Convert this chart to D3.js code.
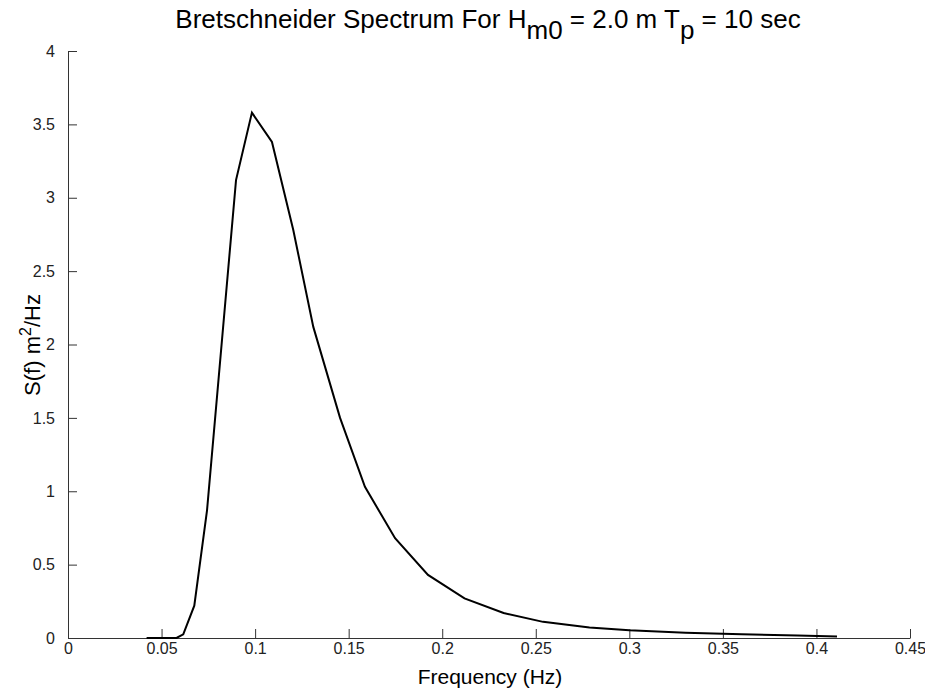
<!DOCTYPE html>
<html>
<head>
<meta charset="utf-8">
<script src="https://cdn.jsdelivr.net/npm/d3@7"></script>
<style>
  html, body { margin: 0; padding: 0; background: #fff; }
  svg { display: block; }
  text { font-family: "Liberation Sans", Arial, Helvetica, sans-serif; }
</style>
</head>
<body>
<svg id="chart" width="925" height="691"></svg>
<script>
// ---- data ----
const frequency = [0.042, 0.058, 0.0616, 0.0675, 0.0743, 0.0898, 0.0983, 0.109, 0.1204, 0.1311,
                   0.1454, 0.1587, 0.1748, 0.1924, 0.2119, 0.2328, 0.2539, 0.2787, 0.300, 0.330,
                   0.360, 0.390, 0.411];
const spectrum  = [0.0, 0.0, 0.025, 0.22, 0.87, 3.12, 3.58, 3.38, 2.78, 2.12,
                   1.50, 1.03, 0.68, 0.43, 0.27, 0.17, 0.11, 0.072, 0.052, 0.036,
                   0.025, 0.017, 0.011];
const xTicks = [0, 0.05, 0.1, 0.15, 0.2, 0.25, 0.3, 0.35, 0.4, 0.45];
const xTickLabels = ["0", "0.05", "0.1", "0.15", "0.2", "0.25", "0.3", "0.35", "0.4", "0.45"];
const yTicks = [0, 0.5, 1, 1.5, 2, 2.5, 3, 3.5, 4];
const yTickLabels = ["0", "0.5", "1", "1.5", "2", "2.5", "3", "3.5", "4"];

const points = frequency.map((f, i) => ({ f, s: spectrum[i] }));

const svg = d3.select("#chart");
const margin = { left: 68, right: 15, top: 51, bottom: 53 };
const W = 925, H = 691;

const x = d3.scaleLinear().domain([0, 0.45]).range([margin.left, W - margin.right]);
const y = d3.scaleLinear().domain([0, 4]).range([H - margin.bottom, margin.top]);

const tickFont = "'Liberation Sans Narrow', 'Liberation Sans', Arial, sans-serif";

// X axis
const xAxis = d3.axisBottom(x)
  .tickValues(xTicks)
  .tickFormat((d, i) => xTickLabels[i])
  .tickSizeInner(-9).tickSizeOuter(0).tickPadding(13);
const gx = svg.append("g").attr("transform", `translate(0,${y(0)})`).call(xAxis);

// Y axis
const yAxis = d3.axisLeft(y)
  .tickValues(yTicks)
  .tickFormat((d, i) => yTickLabels[i])
  .tickSizeInner(-9).tickSizeOuter(0).tickPadding(13);
const gy = svg.append("g").attr("transform", `translate(${x(0)},0)`).call(yAxis);

[gx, gy].forEach(g => {
  g.select(".domain").attr("stroke", "#333").attr("stroke-width", 1);
  g.selectAll(".tick line").attr("stroke", "#333").attr("stroke-width", 1);
  g.selectAll(".tick text").attr("fill", "#222").style("font-size", "16px")
    .style("font-family", tickFont);
});
gy.selectAll(".tick text").attr("dy", "0.32em");
gx.selectAll(".tick text").attr("dy", "0.2em");

// line
const line = d3.line().x(d => x(d.f)).y(d => y(d.s));
svg.append("path")
  .datum(points)
  .attr("fill", "none")
  .attr("stroke", "#000")
  .attr("stroke-width", 2)
  .attr("stroke-linejoin", "miter")
  .attr("d", line);

// Title with subscripts
const title = svg.append("text")
  .attr("x", 488)
  .attr("y", 28)
  .attr("text-anchor", "middle")
  .style("font-size", "26px")
  .attr("fill", "#000");
title.append("tspan").text("Bretschneider Spectrum For H");
title.append("tspan").attr("dy", 11).text("m0");
title.append("tspan").attr("dy", -11).text(" = 2.0 m T");
title.append("tspan").attr("dy", 11).text("p");
title.append("tspan").attr("dy", -11).text(" = 10 sec");

// X axis label
svg.append("text")
  .attr("x", 490)
  .attr("y", 684)
  .attr("text-anchor", "middle")
  .style("font-size", "21px")
  .attr("fill", "#000")
  .text("Frequency (Hz)");

// Y axis label with superscript
const ylab = svg.append("text")
  .attr("transform", `translate(40,345) rotate(-90)`)
  .attr("text-anchor", "middle")
  .style("font-size", "22px")
  .attr("fill", "#000");
ylab.append("tspan").text("S(f) m");
ylab.append("tspan").attr("dy", -9).style("font-size", "16px").text("2");
ylab.append("tspan").attr("dy", 9).text("/Hz");
</script>
</body>
</html>
